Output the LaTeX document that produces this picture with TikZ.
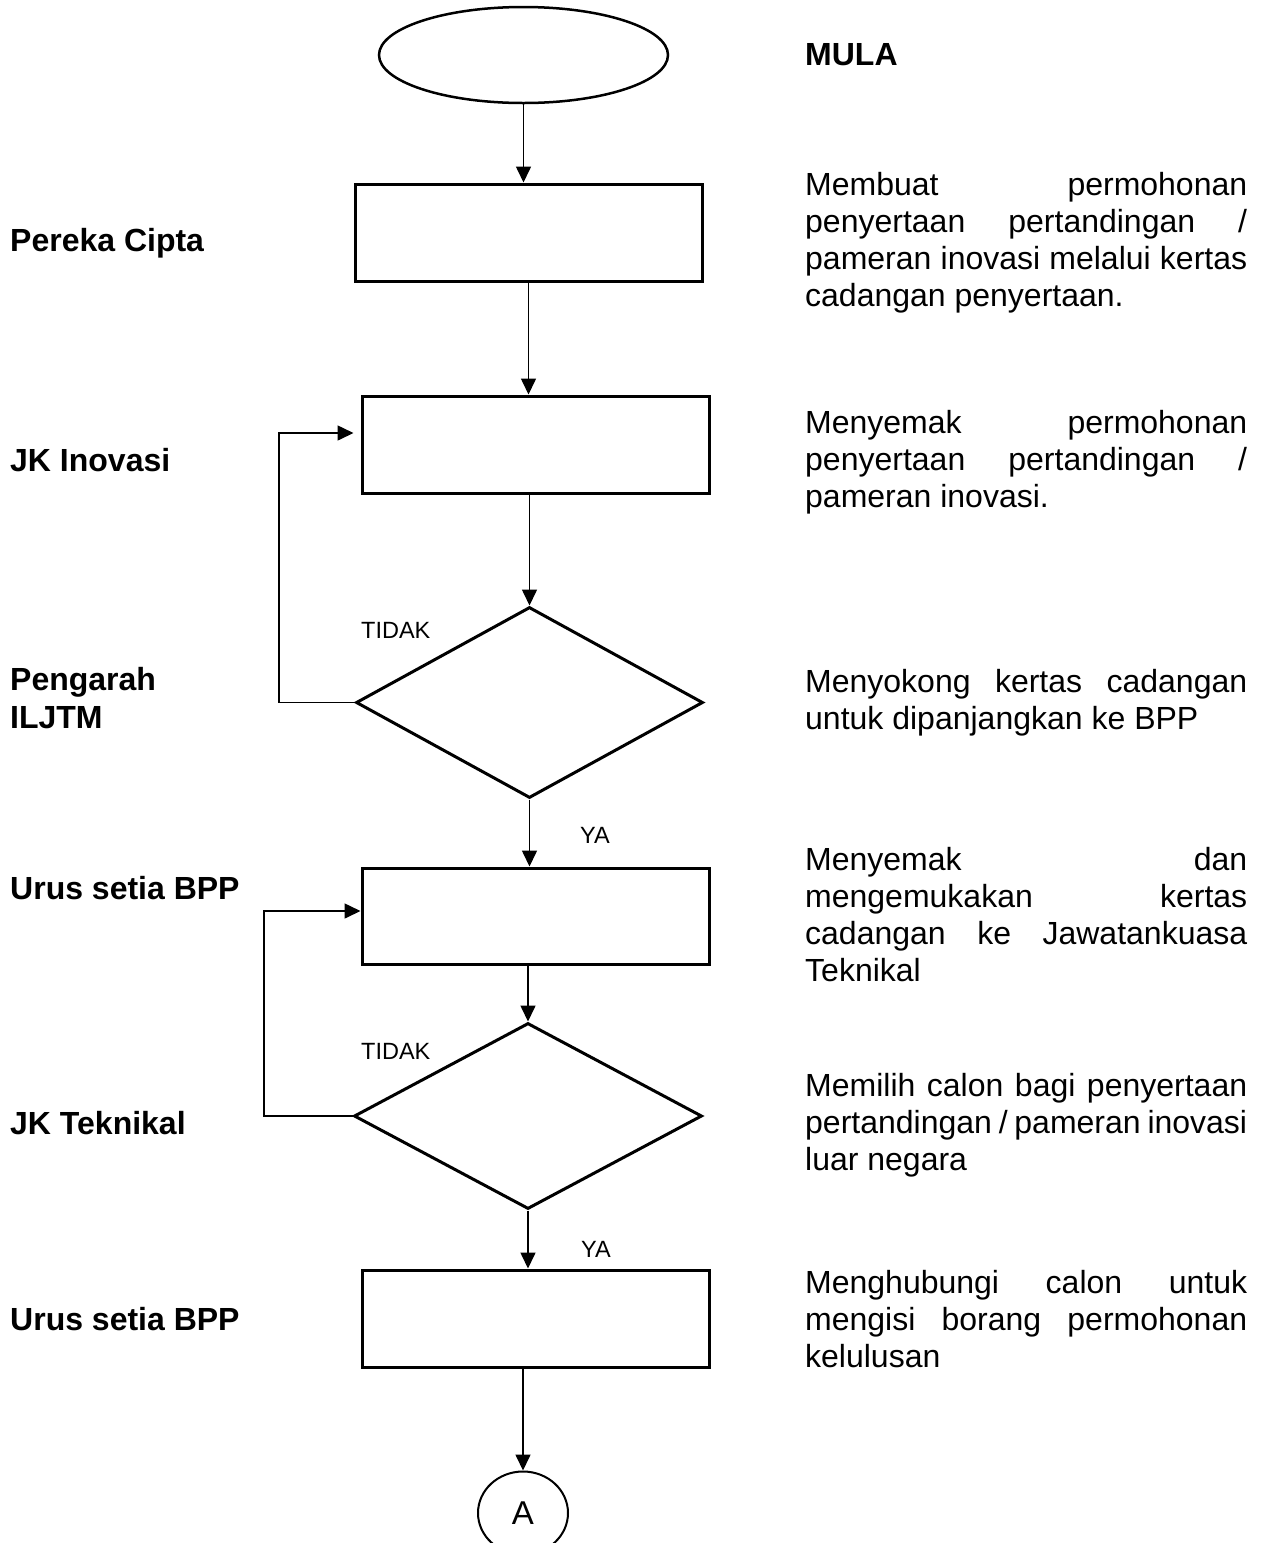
\documentclass[tikz,border=0pt]{standalone}
\usepackage{fontspec}
\setmainfont{Liberation Sans}
\usetikzlibrary{shapes.geometric,arrows.meta}
\tikzset{
  proc/.style={draw, line width=3pt, minimum width=347pt, minimum height=97pt, inner sep=0pt},
  dec/.style={diamond, draw, line width=3pt, inner sep=0pt},
  term/.style={ellipse, draw, line width=2.5pt, inner sep=0pt},
  arr/.style={line width=1.6pt, -{Triangle[length=16pt,width=15pt]}},
  role/.style={anchor=base west, inner sep=0pt, font=\bfseries\fontsize{32}{38}\selectfont},
  desc/.style={anchor=base west, inner sep=0pt, text width=442pt, align=justify, font=\fontsize{32}{37}\selectfont\sloppy},
  yn/.style={anchor=base west, inner sep=0pt, font=\fontsize{23.5}{27}\selectfont},
}
\begin{document}
\begin{tikzpicture}[x=1pt,y=-1pt]
\useasboundingbox (0,0) rectangle (1263,1543);
\fill[white] (0,0) rectangle (1263,1543);
\clip (0,0) rectangle (1263,1543);

% flow shapes
\node[term, minimum width=289pt, minimum height=96pt] (start) at (523.5,55) {};
\node[proc] (b1) at (528.5,232.5) {};
\node[proc] (b2) at (535.5,444.5) {};
\node[dec, minimum width=347pt, minimum height=191pt] (d1) at (529.5,702.5) {};
\node[proc, minimum height=96pt] (b3) at (535.5,916) {};
\node[dec, minimum width=348pt, minimum height=186pt] (d2) at (528,1116) {};
\node[proc] (b4) at (535.5,1318.5) {};
\node[term, line width=2pt, minimum width=90pt, minimum height=83pt, font=\fontsize{33}{36}\selectfont] (conn) at (523,1513) {A};

% connectors
\draw[arr] (start.south) -- (start.south |- b1.north);
\draw[arr] (b1.south) -- (b1.south |- b2.north);
\draw[arr] (d1.north |- b2.south) -- (d1.north);
\draw[arr] (d1.south) -- (d1.south |- b3.north);
\draw[arr] (d2.north |- b3.south) -- (d2.north);
\draw[arr] (d2.south) -- (d2.south |- b4.north);
\draw[arr] (conn.north |- b4.south) -- (conn.north);

\coordinate (f1) at (279,433);
\coordinate (f2) at (264,911);
\draw[arr, shorten >=7pt] (d1.west) -| (f1) -- (f1 -| b2.west);
\draw[arr] (d2.west) -| (f2) -- (f2 -| b3.west);

% decision labels
\node[yn] (n1) at (361,638) {TIDAK};
\node[yn] (y1) at (580,843) {YA};
\node[yn] (n2) at (361,1059) {TIDAK};
\node[yn] (y2) at (581,1257) {YA};

% roles (left)
\node[role] (r1) at (10,251) {Pereka Cipta};
\node[role] (r2) at (10,471) {JK Inovasi};
\node[role, text width=250pt, align=left] (r3) at (10,690) {Pengarah\\ILJTM};
\node[role] (r4) at (10,899) {Urus setia BPP};
\node[role] (r5) at (10,1134) {JK Teknikal};
\node[role] (r6) at (10,1330) {Urus setia BPP};

% descriptions (right)
\node[role] (m0) at (805,65) {MULA};
\node[desc] (t1) at (805,195) {Membuat permohonan\linebreak penyertaan pertandingan /\linebreak pameran inovasi melalui kertas\linebreak cadangan penyertaan.};
\node[desc] (t2) at (805,433) {Menyemak permohonan\linebreak penyertaan pertandingan /\linebreak pameran inovasi.};
\node[desc] (t3) at (805,692) {Menyokong kertas cadangan\linebreak untuk dipanjangkan ke BPP};
\node[desc] (t4) at (805,870) {Menyemak dan\linebreak mengemukakan kertas\linebreak cadangan ke Jawatankuasa\linebreak Teknikal};
\node[desc] (t5) at (805,1096) {Memilih calon bagi penyertaan\linebreak pertandingan / pameran inovasi\linebreak luar negara};
\node[desc] (t6) at (805,1293) {Menghubungi calon untuk\linebreak mengisi borang permohonan\linebreak kelulusan};
\end{tikzpicture}
\end{document}
